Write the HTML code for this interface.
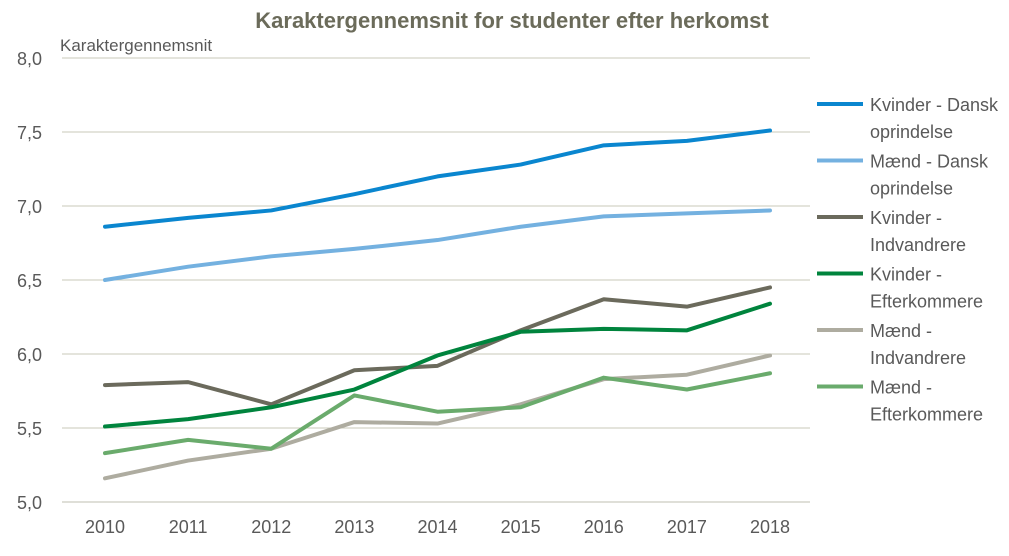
<!DOCTYPE html>
<html><head><meta charset="utf-8"><style>
body{margin:0;background:#fff;}
svg{display:block;font-family:"Liberation Sans",sans-serif;}
</style></head><body>
<svg id="chart" width="1009" height="556">
<text x="512" y="28" text-anchor="middle" font-size="22" font-weight="bold" fill="#6b6b5a">Karaktergennemsnit for studenter efter herkomst</text>
<text x="60" y="51" font-size="17" fill="#595959">Karaktergennemsnit</text>
<g id="grid"></g><g id="series"></g><g id="legend"></g>
</svg>
<script>
const years=[2010,2011,2012,2013,2014,2015,2016,2017,2018];
const yTicks=[5.0,5.5,6.0,6.5,7.0,7.5,8.0];
const kvinderDansk=[6.86,6.92,6.97,7.08,7.20,7.28,7.41,7.44,7.51];
const maendDansk=[6.50,6.59,6.66,6.71,6.77,6.86,6.93,6.95,6.97];
const kvinderIndv=[5.79,5.81,5.66,5.89,5.92,6.16,6.37,6.32,6.45];
const kvinderEfter=[5.51,5.56,5.64,5.76,5.99,6.15,6.17,6.16,6.34];
const maendIndv=[5.16,5.28,5.36,5.54,5.53,5.66,5.83,5.86,5.99];
const maendEfter=[5.33,5.42,5.36,5.72,5.61,5.64,5.84,5.76,5.87];
const seriesNames=[["Kvinder - Dansk","oprindelse"],["Mænd - Dansk","oprindelse"],["Kvinder -","Indvandrere"],["Kvinder -","Efterkommere"],["Mænd -","Indvandrere"],["Mænd -","Efterkommere"]];
const NS="http://www.w3.org/2000/svg";
const x=i=>105+i*(770-105)/(years.length-1);
const y=v=>502-(v-5)*148;
function mk(tag,attrs,parent){const e=document.createElementNS(NS,tag);for(const k in attrs)e.setAttribute(k,attrs[k]);parent.appendChild(e);return e;}
const grid=document.getElementById('grid');
yTicks.forEach(t=>{
 const l=mk('line',{x1:62,x2:810,y1:y(t),y2:y(t),stroke:t===5?'#bfbfb0':'#c9c9b8','stroke-width':1},grid);
 
 
 const tx=mk('text',{x:42,y:y(t)+7,'text-anchor':'end','font-size':18,fill:'#595959'},grid);
 tx.textContent=t.toFixed(1).replace('.',',');
 
 
});
years.forEach((yr,i)=>{
 const tx=mk('text',{x:x(i),y:533,'text-anchor':'middle','font-size':18,fill:'#595959'},grid);
 tx.textContent=yr;
 
 
});
const data=[kvinderDansk,maendDansk,kvinderIndv,kvinderEfter,maendIndv,maendEfter];
const colors=['#0a86cf','#74b1e0','#6b6a5c','#00843d','#aeaca0','#6aab6c'];
const sg=document.getElementById('series');
const order=[4,5,2,3,1,0];
order.forEach(s=>{
 const p=mk('polyline',{points:data[s].map((v,i)=>x(i)+','+y(v)).join(' '),fill:'none',stroke:colors[s],'stroke-width':4,'stroke-linejoin':'round','stroke-linecap':'round'},sg);
 
 
});
const lg=document.getElementById('legend');
seriesNames.forEach((n,s)=>{
 const by=104+s*56.5;
 const l=mk('line',{x1:817,x2:863,y1:by,y2:by,stroke:colors[s],'stroke-width':4},lg);
 
 
 const t=mk('text',{x:870,y:by+7,'font-size':18,fill:'#595959'},lg);
 
 
 const a=mk('tspan',{x:870},t);a.textContent=n[0];
 const b=mk('tspan',{x:870,dy:27},t);b.textContent=n[1];
});
</script>
</body></html>
